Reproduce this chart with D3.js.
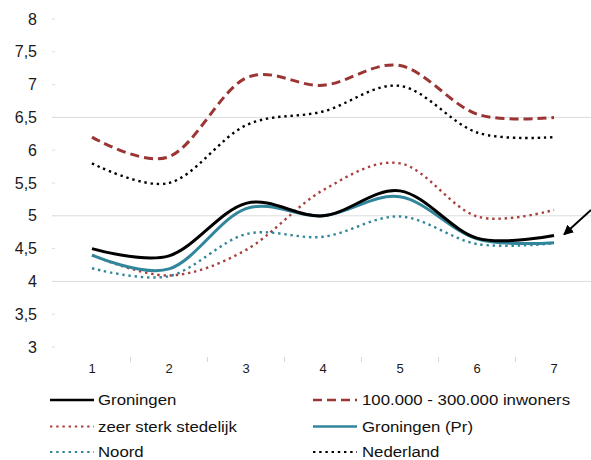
<!DOCTYPE html>
<html><head><meta charset="utf-8">
<script src="https://cdn.jsdelivr.net/npm/d3@7"></script>
<style>body{margin:0;background:#fff}svg{display:block;font-family:"Liberation Sans",Arial,sans-serif}</style>
</head><body>
<svg id="c" width="591" height="460"></svg>
<script>
const categories = [1, 2, 3, 4, 5, 6, 7];
const yTicks = [3, 3.5, 4, 4.5, 5, 5.5, 6, 6.5, 7, 7.5, 8];
const gridVisible = [4, 5, 6.5];
const groningen   = [4.5, 4.39, 5.19, 5.0, 5.38, 4.66, 4.7];
const inwoners    = [6.2, 5.9, 7.1, 6.99, 7.29, 6.55, 6.5];
const stedelijk   = [4.4, 4.09, 4.48, 5.39, 5.8, 4.99, 5.09];
const groningenPr = [4.4, 4.19, 5.11, 5.0, 5.29, 4.65, 4.59];
const noord       = [4.2, 4.08, 4.72, 4.68, 4.99, 4.57, 4.58];
const nederland   = [5.8, 5.5, 6.38, 6.59, 6.98, 6.27, 6.2];
const seriesNames = ["Groningen", "100.000 - 300.000 inwoners", "zeer sterk stedelijk", "Groningen (Pr)", "Noord", "Nederland"];

const styles = [
  {color:"#000000", w:3, dash:null},
  {color:"#9b3533", w:3, dash:"9,5"},
  {color:"#a8403d", w:2.4, dash:"2.4,3.8"},
  {color:"#31869b", w:3, dash:null},
  {color:"#31869b", w:2.4, dash:"2.4,3.8"},
  {color:"#000000", w:2.4, dash:"2.4,3.8"}
];
const seriesData = [groningen, inwoners, stedelijk, groningenPr, noord, nederland];
const drawOrder = [5, 1, 2, 4, 3, 0];

const svg = d3.select("#c");
const x = d3.scaleBand().domain(categories).range([53.5, 592.5]);
const y = d3.scaleLinear().domain([3, 8]).range([347, 19]);
const cx = d => x(d) + x.bandwidth() / 2;

// gridlines
svg.append("g").selectAll("line").data(gridVisible).join("line")
  .attr("x1", 53).attr("x2", 592).attr("y1", d => y(d)).attr("y2", d => y(d))
  .attr("stroke", "#dcdcdc").attr("stroke-width", 1);
// small tick stubs
svg.append("g").selectAll("line").data(yTicks).join("line")
  .attr("x1", 52).attr("x2", 55).attr("y1", d => y(d)).attr("y2", d => y(d))
  .attr("stroke", "#dcdcdc").attr("stroke-width", 1);

// y axis labels
const yAxis = d3.axisLeft(y).tickValues(yTicks).tickSize(0).tickPadding(0)
  .tickFormat(d => String(d).replace(".", ","));
const yg = svg.append("g").attr("transform", "translate(37,0)").call(yAxis);
yg.select(".domain").remove();
yg.selectAll("text").attr("font-size", 16).attr("fill", "#1a1a1a").attr("font-family", "Liberation Sans, Arial, sans-serif");

// x axis labels
const xAxis = d3.axisBottom(x).tickSize(0).tickPadding(0);
const xg = svg.append("g").attr("transform", "translate(0,364)").call(xAxis);
xg.select(".domain").remove();
xg.selectAll("text").attr("font-size", 13).attr("fill", "#1a1a1a").attr("font-family", "Liberation Sans, Arial, sans-serif");
// x tick marks between categories
svg.append("g").selectAll("line").data(categories.slice(0, -1)).join("line")
  .attr("x1", d => x(d) + x.bandwidth()).attr("x2", d => x(d) + x.bandwidth())
  .attr("y1", 357).attr("y2", 362).attr("stroke", "#d6d6d6");

// lines
const line = d3.line().x((d, i) => cx(categories[i])).y(d => y(d)).curve(d3.curveCatmullRom.alpha(0));
drawOrder.forEach(k => {
  const s = styles[k];
  svg.append("path").datum(seriesData[k]).attr("d", line)
    .attr("fill", "none").attr("stroke", s.color).attr("stroke-width", s.w)
    .attr("stroke-dasharray", s.dash).attr("stroke-linejoin", "round");
});

// arrow
const defs = svg.append("defs");
defs.append("marker").attr("id", "ah").attr("viewBox", "0 0 10 10").attr("refX", 9).attr("refY", 5)
  .attr("markerWidth", 5).attr("markerHeight", 5).attr("orient", "auto")
  .append("path").attr("d", "M0,0L10,5L0,10Z").attr("fill", "#000");
svg.append("line").attr("x1", 591).attr("y1", 210).attr("x2", cx(7) + 10).attr("y2", y(groningen[6]) - 1)
  .attr("stroke", "#000").attr("stroke-width", 2).attr("marker-end", "url(#ah)");

// legend
const legX = [50, 313], legTextX = [98, 362], legY = [400, 426.5, 452];
const lg = svg.append("g");
seriesNames.forEach((name, i) => {
  const col = i % 2, row = Math.floor(i / 2);
  const s = styles[i];
  lg.append("line").attr("x1", legX[col]).attr("x2", legX[col] + 44)
    .attr("y1", legY[row]).attr("y2", legY[row])
    .attr("stroke", s.color).attr("stroke-width", s.dash && s.dash.startsWith("2.4") ? 2 : 2.6)
    .attr("stroke-dasharray", s.dash);
  lg.append("text").attr("transform", `translate(${legTextX[col]},${legY[row]}) scale(1.12,1)`)
    .attr("dy", "0.35em")
    .attr("font-size", 15).attr("fill", "#111").text(name);
});
</script>
</body></html>
